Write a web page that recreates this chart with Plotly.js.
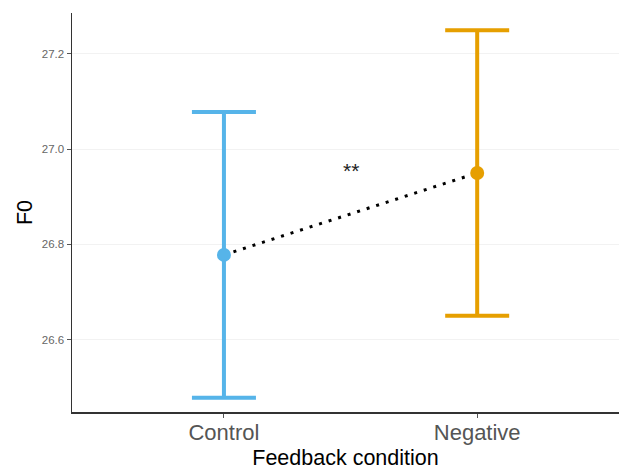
<!DOCTYPE html>
<html>
<head>
<meta charset="utf-8">
<script src="https://cdn.plot.ly/plotly-3.0.1.min.js"></script>
<style>html,body{margin:0;padding:0;background:#fff;}#chart{width:619px;height:470px;}</style>
</head>
<body>
<div id="chart"></div>
<script>
const categories = ["Control", "Negative"];
const means = [26.778, 26.95];
const ciHalf = [0.3, 0.3];
const colors = ["#56B4E9", "#E69F00"];
const yTicks = [26.6, 26.8, 27.0, 27.2];
const yTickText = ["26.6", "26.8", "27.0", "27.2"];
const sigLabel = "**";

const xpos = categories.map((c, i) => i + 1);

const traces = [];
traces.push({
  x: xpos, y: means, mode: "lines", type: "scatter",
  line: {color: "#000", width: 3, dash: "3px,7px"},
  hoverinfo: "skip", showlegend: false
});
categories.forEach((c, i) => {
  traces.push({
    x: [xpos[i]], y: [means[i]], type: "scatter", mode: "markers",
    marker: {color: colors[i], size: 14},
    error_y: {type: "data", array: [ciHalf[i]], visible: true, color: colors[i], thickness: 4, width: 32},
    name: c, showlegend: false
  });
});
const layout = {
  width: 619, height: 470,
  margin: {l: 72, r: 0, t: 13, b: 58},
  paper_bgcolor: "#fff", plot_bgcolor: "#fff",
  font: {family: "Liberation Sans, Arial, sans-serif"},
  xaxis: {
    range: [0.4, 2.56], tickvals: xpos, ticktext: categories,
    showgrid: false, zeroline: false, showline: true, linecolor: "#333", linewidth: 1.5,
    ticks: "outside", ticklen: 4, tickcolor: "#555", tickwidth: 1,
    ticklabelstandoff: -4,
    tickfont: {size: 22, color: "#555"},
    title: {text: "Feedback condition", font: {size: 21.5, color: "#000"}, standoff: 12}
  },
  yaxis: {
    range: [26.448, 27.286], tickvals: yTicks, ticktext: yTickText,
    showgrid: true, gridcolor: "#f2f2f2", gridwidth: 1, zeroline: false,
    showline: true, linecolor: "#333", linewidth: 1.5,
    ticks: "outside", ticklen: 4, tickcolor: "#555", tickwidth: 1,
    tickfont: {size: 11.5, color: "#666"},
    title: {text: "F0", font: {size: 21.5, color: "#000"}, standoff: 3}
  },
  annotations: [{
    x: 1.5, y: 26.955, xref: "x", yref: "y", text: sigLabel, showarrow: false,
    font: {size: 21, color: "#222"}
  }]
};
Plotly.newPlot("chart", traces, layout, {staticPlot: true, displayModeBar: false});
</script>
</body>
</html>
